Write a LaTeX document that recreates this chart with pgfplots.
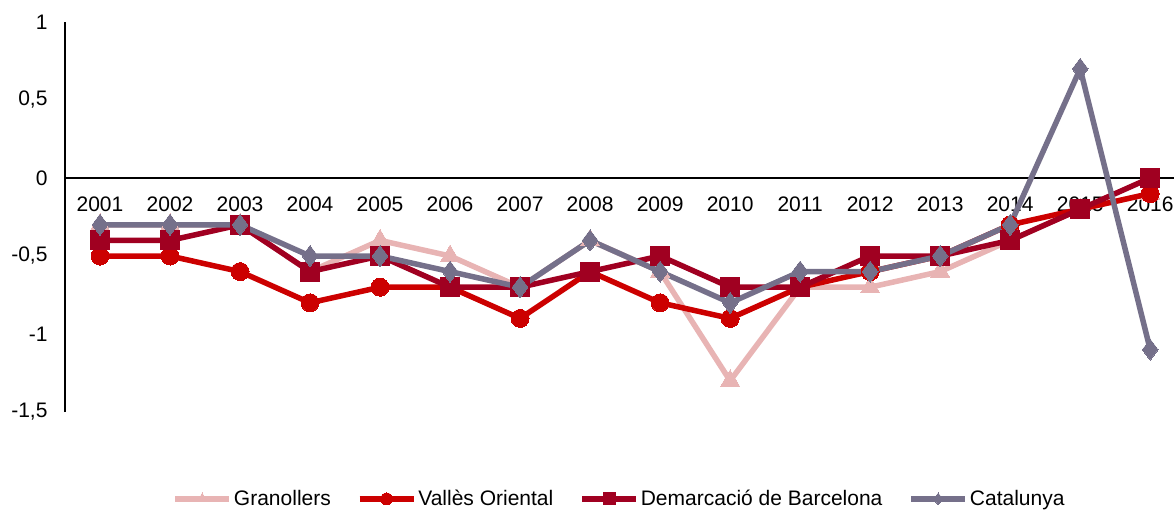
\documentclass[border=0pt]{standalone}
\usepackage{pgfplots}
\pgfplotsset{compat=1.18}
\usepackage{fontspec}
\setmainfont{Liberation Sans}
\definecolor{cGra}{HTML}{E8B4B4}
\definecolor{cVal}{HTML}{CC0000}
\definecolor{cDem}{HTML}{A00021}
\definecolor{cCat}{HTML}{75708A}
\begin{document}
\begin{tikzpicture}
\begin{axis}[
  name=ax,
  scale only axis,
  width=1109bp, height=390bp,
  xmin=0.5, xmax=16.34,
  ymin=-1.5, ymax=1,
  axis x line=middle,
  axis y line=left,
  axis line style={-, line width=1.3bp, black},
  xtick={1,...,16},
  xticklabels={2001,2002,2003,2004,2005,2006,2007,2008,2009,2010,2011,2012,2013,2014,2015,2016},
  ytick={-1.5,-1,-0.5,0,0.5,1},
  yticklabels={{-1,5},{-1},{-0,5},{0},{0,5},{1}},
  major tick length=0pt,
  tick style={draw=none},
  ticklabel style={font=\fontsize{21bp}{25bp}\selectfont},
  xticklabel style={yshift=-15bp},
  yticklabel style={xshift=-14bp},
  clip=false,
  legend columns=4,
  legend style={at={(0.5,-0.223)}, anchor=center, draw=none,
    font=\fontsize{21bp}{25bp}\selectfont,
    /tikz/every even column/.append style={column sep=24bp}},
  legend image code/.code={
    \draw[#1, mark size=6bp] (0bp,0bp) -- (54bp,0bp);
    \draw[#1, mark size=6bp] plot coordinates {(27bp,0bp)};
  },
]
\addplot[cGra, line width=5.5bp, mark=triangle*, mark size=11bp, mark options={line width=0pt}] coordinates {
(1,-0.3)(2,-0.3)(3,-0.3)(4,-0.6)(5,-0.4)(6,-0.5)(7,-0.7)(8,-0.4)(9,-0.6)(10,-1.3)(11,-0.7)(12,-0.7)(13,-0.6)(14,-0.4)(15,-0.2)(16,-0.1)};
\addlegendentry{Granollers}
\addplot[cVal, line width=5.5bp, mark=*, mark size=9bp, mark options={line width=0pt}] coordinates {
(1,-0.5)(2,-0.5)(3,-0.6)(4,-0.8)(5,-0.7)(6,-0.7)(7,-0.9)(8,-0.6)(9,-0.8)(10,-0.9)(11,-0.7)(12,-0.6)(13,-0.5)(14,-0.3)(15,-0.2)(16,-0.1)};
\addlegendentry{Vallès Oriental}
\addplot[cDem, line width=5.5bp, mark=square*, mark size=9.5bp, mark options={line width=0pt}] coordinates {
(1,-0.4)(2,-0.4)(3,-0.3)(4,-0.6)(5,-0.5)(6,-0.7)(7,-0.7)(8,-0.6)(9,-0.5)(10,-0.7)(11,-0.7)(12,-0.5)(13,-0.5)(14,-0.4)(15,-0.2)(16,0)};
\addlegendentry{Demarcació de Barcelona}
\addplot[cCat, line width=5.5bp, mark=diamond*, mark size=10.5bp, mark options={line width=0pt}] coordinates {
(1,-0.3)(2,-0.3)(3,-0.3)(4,-0.5)(5,-0.5)(6,-0.6)(7,-0.7)(8,-0.4)(9,-0.6)(10,-0.8)(11,-0.6)(12,-0.6)(13,-0.5)(14,-0.3)(15,0.7)(16,-1.1)};
\addlegendentry{Catalunya}
\end{axis}
\pgfresetboundingbox
\path[use as bounding box] ([xshift=-65bp,yshift=-99bp]ax.south west) rectangle ([yshift=22bp]ax.north east);
\end{tikzpicture}
\end{document}
